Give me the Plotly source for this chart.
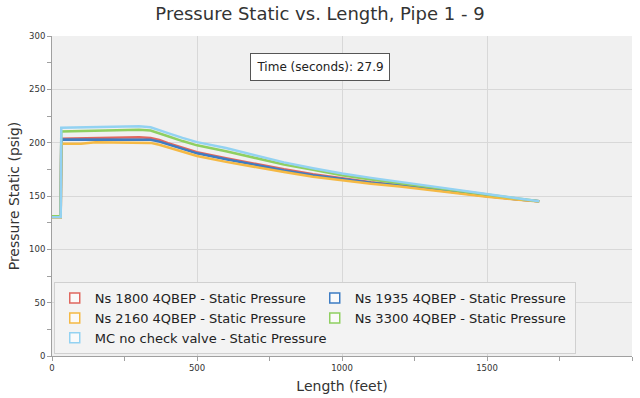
import plotly.graph_objects as go

# ---- data ----
x_ft = [0, 30, 32, 100, 150, 200, 250, 300, 340, 370, 400, 450, 500, 600, 700, 800, 900,
        1000, 1100, 1200, 1300, 1400, 1500, 1600, 1680]

ns1800 = [129.5, 129.5, 203.8, 204.0, 204.2, 204.5, 205.0, 205.0, 204.3, 202.5, 199.5, 195.0, 191.0,
          185.5, 180.0, 175.0, 170.5, 166.5, 163.0, 160.0, 156.5, 153.0, 150.0, 147.0, 145.0]
ns1935 = [129.5, 129.5, 203.0, 203.0, 203.1, 203.2, 203.4, 203.5, 202.8, 201.0, 198.5, 194.0, 190.0,
          184.5, 179.0, 174.0, 169.5, 166.0, 162.5, 159.8, 156.3, 152.8, 149.8, 147.0, 145.0]
ns2160 = [129.5, 129.5, 199.0, 199.0, 200.3, 200.3, 200.4, 200.5, 199.8, 198.0, 195.5, 191.0, 187.5,
          182.0, 177.0, 172.5, 168.0, 164.5, 161.5, 158.8, 155.5, 152.3, 149.3, 146.7, 144.8]
ns3300 = [131.0, 131.0, 210.5, 211.0, 211.2, 211.5, 212.0, 212.0, 211.3, 209.0, 206.0, 201.5, 197.5,
          192.0, 185.5, 179.5, 174.5, 169.5, 165.5, 162.0, 158.5, 154.5, 151.0, 147.5, 145.0]
mc_nocv = [130.0, 130.0, 214.0, 214.3, 214.6, 215.0, 215.5, 215.3, 214.5, 212.0, 209.0, 204.5, 200.5,
           195.0, 188.0, 181.5, 176.0, 171.0, 167.0, 163.2, 159.2, 155.2, 151.6, 148.0, 145.0]

series_names = ["Ns 1800 4QBEP - Static Pressure", "Ns 1935 4QBEP - Static Pressure",
                "Ns 2160 4QBEP - Static Pressure", "Ns 3300 4QBEP - Static Pressure",
                "MC no check valve - Static Pressure"]
series_values = [ns1800, ns1935, ns2160, ns3300, mc_nocv]
series_colors = ["#e0675f", "#3d7cc4", "#f5b944", "#8fcf60", "#93d2f2"]

x_ticks = [0, 500, 1000, 1500, 2000]
y_ticks = [0, 50, 100, 150, 200, 250, 300]
time_label = "Time (seconds): 27.9"

FONT = "DejaVu Sans, Liberation Sans, sans-serif"

fig = go.Figure()
for name, vals, col in zip(series_names, series_values, series_colors):
    fig.add_trace(go.Scatter(x=x_ft, y=vals, mode="lines", name=name,
                             line=dict(color=col, width=2.5), showlegend=False))
# legend entries (checkbox-like squares)
for name, col in zip(series_names, series_colors):
    fig.add_trace(go.Scatter(x=[None], y=[None], mode="markers", name=name,
                             marker=dict(symbol="square", size=10, color="#fafafa",
                                         line=dict(color=col, width=1.5)),
                             showlegend=True))

axis_common = dict(showgrid=True, gridcolor="#d8d8d8", gridwidth=1,
                   showline=True, linecolor="#a0a0a0", linewidth=1,
                   ticks="outside", ticklen=4, tickcolor="#a0a0a0",
                   tickfont=dict(size=8.5, color="#333333", family=FONT),
                   zeroline=False, automargin=False)

fig.update_layout(
    width=640, height=398,
    margin=dict(l=52, r=8, t=36, b=42),
    paper_bgcolor="white",
    plot_bgcolor="#f0f0f0",
    font=dict(family=FONT, color="#333333", size=11),
    title=dict(text="Pressure Static vs. Length, Pipe 1 - 9", x=0.5, xanchor="center",
               y=0.965, yanchor="middle", font=dict(size=18, color="#333333", family=FONT)),
    xaxis=dict(range=[0, 2000], tickvals=x_ticks, ticktext=[str(v) for v in x_ticks],
               minor=dict(dtick=250, ticks="outside", ticklen=4, tickcolor="#a0a0a0", showgrid=False),
               title=dict(text="Length (feet)", font=dict(size=14, color="#333333"), standoff=8),
               **axis_common),
    yaxis=dict(range=[0, 300], tickvals=y_ticks, ticktext=[str(v) for v in y_ticks],
               minor=dict(dtick=25, ticks="outside", ticklen=4, tickcolor="#a0a0a0", showgrid=False),
               title=dict(text="Pressure Static (psig)", font=dict(size=14, color="#333333"), standoff=6),
               **axis_common),
    legend=dict(orientation="h", x=0.003, y=0.006, xanchor="left", yanchor="bottom",
                bgcolor="#f3f3f3", bordercolor="#d0d0d0", borderwidth=1,
                entrywidth=215, entrywidthmode="pixels", itemwidth=30,
                font=dict(size=13, color="#222222", family=FONT), tracegroupgap=0),
    annotations=[dict(text=time_label, xref="paper", yref="paper", x=0.462, y=0.903,
                      xanchor="center", yanchor="middle", showarrow=False,
                      width=130, height=18, align="center",
                      font=dict(size=12, color="#222222", family=FONT),
                      bgcolor="white", bordercolor="#555555", borderwidth=1, borderpad=4)],
)

fig.write_html("out.html", config={"displayModeBar": False},
               post_script="document.body.style.margin='0';")
